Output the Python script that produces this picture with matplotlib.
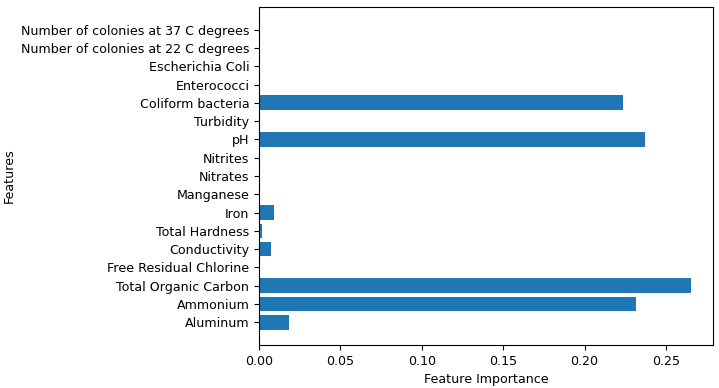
import matplotlib.pyplot as plt

features = ["Aluminum", "Ammonium", "Total Organic Carbon", "Free Residual Chlorine",
            "Conductivity", "Total Hardness", "Iron", "Manganese", "Nitrates",
            "Nitrites", "pH", "Turbidity", "Coliform bacteria", "Enterococci",
            "Escherichia Coli", "Number of colonies at 22 C degrees",
            "Number of colonies at 37 C degrees"]
importance = [0.0185, 0.2316, 0.2655, 0.0, 0.0072, 0.0017, 0.0094, 0.0, 0.0,
              0.0, 0.2374, 0.0, 0.2238, 0.0, 0.0, 0.0, 0.0]

plt.rcParams['font.size'] = 9.1

fig = plt.figure(figsize=(7.19, 3.88), dpi=100)
ax = fig.add_axes([0.3603, 0.111, 0.631, 0.871])
ax.barh(features, importance)
ax.set_xlabel("Feature Importance")
ax.set_ylabel("Features")
fig.savefig("out.png")
